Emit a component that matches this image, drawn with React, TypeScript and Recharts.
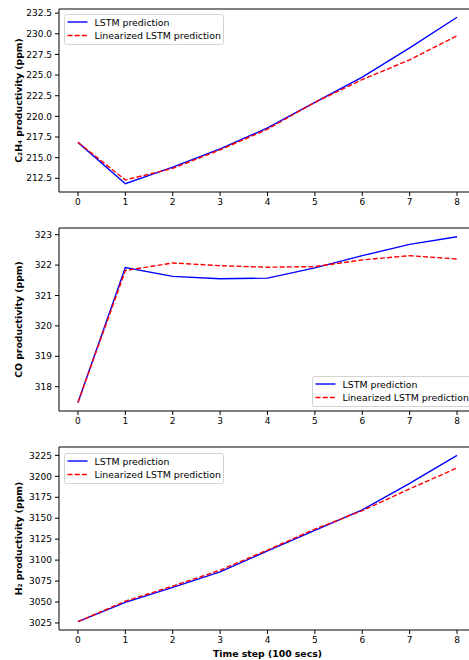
import React from "react";
import { LineChart, Line, XAxis, YAxis, Legend, ReferenceLine } from "recharts";

const steps = [0, 1, 2, 3, 4, 5, 6, 7, 8];

const c2h4Lstm = [216.85, 211.85, 213.85, 216.05, 218.6, 221.7, 224.75, 228.3, 232.0];
const c2h4Lin = [216.85, 212.3, 213.7, 215.95, 218.45, 221.7, 224.45, 226.85, 229.75];

const coLstm = [317.48, 321.92, 321.63, 321.55, 321.57, 321.91, 322.31, 322.68, 322.93];
const coLin = [317.48, 321.82, 322.07, 321.98, 321.93, 321.95, 322.17, 322.31, 322.2];

const h2Lstm = [3026.5, 3049.5, 3067.5, 3086, 3111, 3135.5, 3160, 3191.5, 3225];
const h2Lin = [3026.5, 3051, 3069, 3088, 3112, 3137, 3159, 3185, 3210];

const c2h4Ticks = [212.5, 215, 217.5, 220, 222.5, 225, 227.5, 230, 232.5];
const coTicks = [318, 319, 320, 321, 322, 323];
const h2Ticks = [3025, 3050, 3075, 3100, 3125, 3150, 3175, 3200, 3225];

const seriesNames = ["LSTM prediction", "Linearized LSTM prediction"];

const FONT = "'DejaVu Sans', sans-serif";
const BLUE = "#0000ff";
const RED = "#ff0000";
const DASH = "5 2.2";

function makeRows(a: number[], b: number[]) {
  return steps.map((s, i) => ({ step: s, lstm: a[i], lin: b[i] }));
}

function LegendBox() {
  return (
    <svg width={160} height={31} style={{ display: "block" }}>
      <rect x={0.5} y={0.5} width={159} height={30} rx={2} fill="rgba(255,255,255,0.8)" stroke="#d4d4d4" />
      <line x1={3.5} x2={23.5} y1={8} y2={8} stroke={BLUE} strokeWidth={1.4} />
      <line x1={3.5} x2={23.5} y1={21.5} y2={21.5} stroke={RED} strokeWidth={1.4} strokeDasharray={DASH} />
      <text x={30.5} y={8} fontSize={9.4} fontFamily={FONT} dominantBaseline="central" fill="#000">
        {seriesNames[0]}
      </text>
      <text x={30.5} y={21.5} fontSize={9.4} fontFamily={FONT} dominantBaseline="central" fill="#000">
        {seriesNames[1]}
      </text>
    </svg>
  );
}

type PanelProps = {
  top: number;
  height: number;
  rows: { step: number; lstm: number; lin: number }[];
  domain: [number, number];
  ticks: number[];
  fmt: (v: number) => string;
  ylabel: string;
  legendPos: { left: number; top: number };
  xlabel?: string;
};

function Panel({ top, height, rows, domain, ticks, fmt, ylabel, legendPos, xlabel }: PanelProps) {
  const tickStyle = { fontSize: 9, fill: "#000", fontFamily: FONT };
  return (
    <div style={{ position: "absolute", left: 0, top }}>
      <LineChart width={476} height={height} data={rows} margin={{ top: 9, right: 0, bottom: 0, left: 0 }}>
        <XAxis
          dataKey="step"
          type="number"
          domain={[-0.4, 8.4]}
          ticks={steps}
          height={height - 9 - 183}
          stroke="#000"
          tickSize={4}
          tickMargin={3}
          tick={tickStyle}
          label={
            xlabel
              ? (p: any) => (
                  <text
                    x={p.viewBox.x + p.viewBox.width / 2}
                    y={215}
                    textAnchor="middle"
                    dominantBaseline="central"
                    fontSize={9.3}
                    fontWeight="bold"
                    fontFamily={FONT}
                    fill="#000"
                  >
                    {xlabel}
                  </text>
                )
              : undefined
          }
        />
        <YAxis
          type="number"
          domain={domain}
          ticks={ticks}
          width={59}
          stroke="#000"
          tickSize={4}
          tickMargin={3}
          tick={tickStyle}
          tickFormatter={fmt}
          allowDataOverflow
          label={(p: any) => {
            const cy = p.viewBox.y + p.viewBox.height / 2;
            return (
              <text
                x={18}
                y={cy}
                transform={`rotate(-90, 18, ${cy})`}
                textAnchor="middle"
                dominantBaseline="central"
                fontSize={9.3}
                fontWeight="bold"
                fontFamily={FONT}
                fill="#000"
              >
                {ylabel}
              </text>
            );
          }}
        />
        {/* top spine */}
        <ReferenceLine y={domain[1]} stroke="#000" strokeWidth={1} ifOverflow="extendDomain" />
        <Legend
          layout="vertical"
          align="center"
          verticalAlign="middle"
          wrapperStyle={{ left: legendPos.left, top: legendPos.top, right: "auto", bottom: "auto", width: "auto" }}
          content={() => <LegendBox />}
        />
        <Line dataKey="lstm" name={seriesNames[0]} stroke={BLUE} strokeWidth={1.4} dot={false} isAnimationActive={false} />
        <Line dataKey="lin" name={seriesNames[1]} stroke={RED} strokeWidth={1.4} strokeDasharray={DASH} dot={false} isAnimationActive={false} />
      </LineChart>
    </div>
  );
}

export default function App() {
  return (
    <div style={{ position: "absolute", left: 0, top: 0, width: 469, height: 660, overflow: "hidden", background: "#fff" }}>
      <Panel
        top={0}
        height={210}
        rows={makeRows(c2h4Lstm, c2h4Lin)}
        domain={[210.84, 233.0]}
        ticks={c2h4Ticks}
        fmt={(v) => v.toFixed(1)}
        ylabel="C₂H₄ productivity (ppm)"
        legendPos={{ left: 63.5, top: 14 }}
      />
      <Panel
        top={219}
        height={210}
        rows={makeRows(coLstm, coLin)}
        domain={[317.2, 323.22]}
        ticks={coTicks}
        fmt={(v) => String(v)}
        ylabel="CO productivity (ppm)"
        legendPos={{ left: 311.5, top: 156.5 }}
      />
      <Panel
        top={438}
        height={222}
        rows={makeRows(h2Lstm, h2Lin)}
        domain={[3016.6, 3235]}
        ticks={h2Ticks}
        fmt={(v) => String(v)}
        ylabel="H₂ productivity (ppm)"
        legendPos={{ left: 63.5, top: 14.5 }}
        xlabel="Time step (100 secs)"
      />
    </div>
  );
}
